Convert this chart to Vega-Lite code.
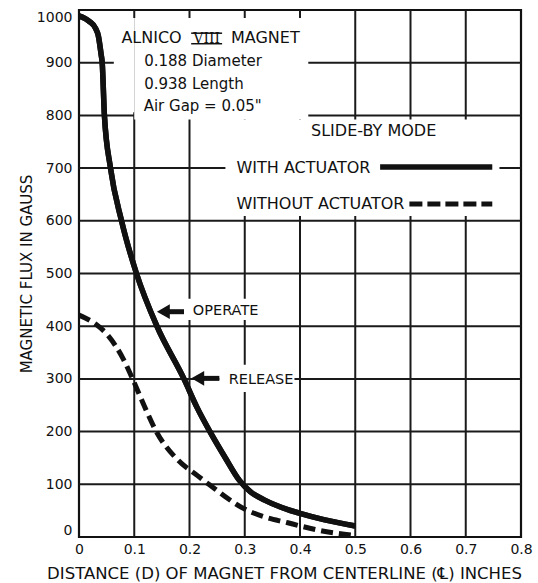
{
  "$schema": "https://vega.github.io/schema/vega-lite/v6.json",
  "width": 442,
  "height": 527,
  "autosize": {"type": "none"},
  "padding": {"left": 79, "top": 10, "right": 17, "bottom": 46},
  "background": "white",
  "resolve": {"axis": {"x": "independent", "y": "independent"}},
  "datasets": {
    "curves": [
      {"d": 0, "flux": 989, "series": "With actuator"},
      {"d": 0.018, "flux": 979, "series": "With actuator"},
      {"d": 0.03, "flux": 965, "series": "With actuator"},
      {"d": 0.035, "flux": 951, "series": "With actuator"},
      {"d": 0.04, "flux": 916, "series": "With actuator"},
      {"d": 0.042, "flux": 900, "series": "With actuator"},
      {"d": 0.046, "flux": 800, "series": "With actuator"},
      {"d": 0.057, "flux": 700, "series": "With actuator"},
      {"d": 0.077, "flux": 600, "series": "With actuator"},
      {"d": 0.104, "flux": 500, "series": "With actuator"},
      {"d": 0.141, "flux": 400, "series": "With actuator"},
      {"d": 0.19, "flux": 300, "series": "With actuator"},
      {"d": 0.214, "flux": 245, "series": "With actuator"},
      {"d": 0.237, "flux": 200, "series": "With actuator"},
      {"d": 0.265, "flux": 150, "series": "With actuator"},
      {"d": 0.29, "flux": 108, "series": "With actuator"},
      {"d": 0.31, "flux": 86, "series": "With actuator"},
      {"d": 0.336, "flux": 70, "series": "With actuator"},
      {"d": 0.378, "flux": 52, "series": "With actuator"},
      {"d": 0.4, "flux": 45, "series": "With actuator"},
      {"d": 0.443, "flux": 33, "series": "With actuator"},
      {"d": 0.5, "flux": 21, "series": "With actuator"},
      {"d": 0, "flux": 421, "series": "Without actuator"},
      {"d": 0.03, "flux": 404, "series": "Without actuator"},
      {"d": 0.052, "flux": 383, "series": "Without actuator"},
      {"d": 0.08, "flux": 338, "series": "Without actuator"},
      {"d": 0.097, "flux": 300, "series": "Without actuator"},
      {"d": 0.118, "flux": 249, "series": "Without actuator"},
      {"d": 0.14, "flux": 200, "series": "Without actuator"},
      {"d": 0.18, "flux": 145, "series": "Without actuator"},
      {"d": 0.215, "flux": 116, "series": "Without actuator"},
      {"d": 0.235, "flux": 100, "series": "Without actuator"},
      {"d": 0.3, "flux": 53, "series": "Without actuator"},
      {"d": 0.336, "flux": 38, "series": "Without actuator"},
      {"d": 0.378, "flux": 27, "series": "Without actuator"},
      {"d": 0.4, "flux": 21, "series": "Without actuator"},
      {"d": 0.443, "flux": 11, "series": "Without actuator"},
      {"d": 0.5, "flux": 3, "series": "Without actuator"}
    ]
  },
  "layer": [
    {
      "data": {"name": "curves"},
      "transform": [{"filter": "datum.series === 'With actuator'"}],
      "mark": {"type": "line", "color": "#111", "strokeWidth": 5.5, "interpolate": "monotone", "strokeCap": "butt"},
      "encoding": {
        "x": {"field": "d", "type": "quantitative", "scale": {"domain": [0, 0.8], "nice": false, "zero": false},
          "axis": {"title": "DISTANCE (D) OF MAGNET FROM CENTERLINE (℄) INCHES", "grid": false, "values": [0, 0.1, 0.2, 0.3, 0.4, 0.5, 0.6, 0.7, 0.8], "format": ".1~f", "labelFlush": false, "labelPadding": 5, "titlePadding": 9, "titleFontSize": 16.5, "titleX": 205, "titleAlign": "center", "labelOverlap": false}},
        "y": {"field": "flux", "type": "quantitative", "scale": {"domain": [0, 1000], "nice": false},
          "axis": {"title": "MAGNETIC FLUX IN GAUSS", "grid": false, "values": [0, 100, 200, 300, 400, 500, 600, 700, 800, 900, 1000], "format": "d", "labelFlush": true, "labelPadding": 7, "titlePadding": 2, "titleFontSize": 15, "labelOverlap": false}}
      }
    },
    {"data": {"values": [{}]}, "mark": {"type": "rule", "color": "#1a1a1a", "strokeWidth": 2}, "encoding": {"x": {"datum": 0.1, "axis": null}}},
    {"data": {"values": [{}]}, "mark": {"type": "rule", "color": "#1a1a1a", "strokeWidth": 2}, "encoding": {"x": {"datum": 0.2, "axis": null}}},
    {"data": {"values": [{}]}, "mark": {"type": "rule", "color": "#1a1a1a", "strokeWidth": 2}, "encoding": {"x": {"datum": 0.3, "axis": null}}},
    {"data": {"values": [{}]}, "mark": {"type": "rule", "color": "#1a1a1a", "strokeWidth": 2}, "encoding": {"x": {"datum": 0.4, "axis": null}}},
    {"data": {"values": [{}]}, "mark": {"type": "rule", "color": "#1a1a1a", "strokeWidth": 2}, "encoding": {"x": {"datum": 0.5, "axis": null}}},
    {"data": {"values": [{}]}, "mark": {"type": "rule", "color": "#1a1a1a", "strokeWidth": 2}, "encoding": {"x": {"datum": 0.6, "axis": null}}},
    {"data": {"values": [{}]}, "mark": {"type": "rule", "color": "#1a1a1a", "strokeWidth": 2}, "encoding": {"x": {"datum": 0.7, "axis": null}}},
    {"data": {"values": [{}]}, "mark": {"type": "rule", "color": "#1a1a1a", "strokeWidth": 2}, "encoding": {"y": {"datum": 100, "axis": null}}},
    {"data": {"values": [{}]}, "mark": {"type": "rule", "color": "#1a1a1a", "strokeWidth": 2}, "encoding": {"y": {"datum": 200, "axis": null}}},
    {"data": {"values": [{}]}, "mark": {"type": "rule", "color": "#1a1a1a", "strokeWidth": 2}, "encoding": {"y": {"datum": 300, "axis": null}}},
    {"data": {"values": [{}]}, "mark": {"type": "rule", "color": "#1a1a1a", "strokeWidth": 2}, "encoding": {"y": {"datum": 400, "axis": null}}},
    {"data": {"values": [{}]}, "mark": {"type": "rule", "color": "#1a1a1a", "strokeWidth": 2}, "encoding": {"y": {"datum": 500, "axis": null}}},
    {"data": {"values": [{}]}, "mark": {"type": "rule", "color": "#1a1a1a", "strokeWidth": 2}, "encoding": {"y": {"datum": 600, "axis": null}}},
    {"data": {"values": [{}]}, "mark": {"type": "rule", "color": "#1a1a1a", "strokeWidth": 2}, "encoding": {"y": {"datum": 700, "axis": null}}},
    {"data": {"values": [{}]}, "mark": {"type": "rule", "color": "#1a1a1a", "strokeWidth": 2}, "encoding": {"y": {"datum": 800, "axis": null}}},
    {"data": {"values": [{}]}, "mark": {"type": "rule", "color": "#1a1a1a", "strokeWidth": 2}, "encoding": {"y": {"datum": 900, "axis": null}}},
    {
      "data": {"values": [{}]},
      "mark": {"type": "rect", "color": "white", "opacity": 1},
      "encoding": {"x": {"datum": 0.063, "axis": null}, "x2": {"datum": 0.1}, "y": {"datum": 806, "axis": null}, "y2": {"datum": 985}}
    },
    {
      "data": {"values": [{}]},
      "mark": {"type": "rect", "color": "white", "opacity": 1},
      "encoding": {"x": {"datum": 0.1, "axis": null}, "x2": {"datum": 0.415}, "y": {"datum": 792, "axis": null}, "y2": {"datum": 985}}
    },
    {
      "data": {"values": [{}]},
      "mark": {"type": "rect", "color": "white", "opacity": 1},
      "encoding": {"x": {"datum": 0.265, "axis": null}, "x2": {"datum": 0.761}, "y": {"datum": 609, "axis": null}, "y2": {"datum": 792}}
    },
    {
      "data": {"values": [{}]},
      "mark": {"type": "rect", "color": "white", "opacity": 1},
      "encoding": {"x": {"datum": 0.19, "axis": null}, "x2": {"datum": 0.34}, "y": {"datum": 412, "axis": null}, "y2": {"datum": 452}}
    },
    {
      "data": {"values": [{}]},
      "mark": {"type": "rect", "color": "white", "opacity": 1},
      "encoding": {"x": {"datum": 0.254, "axis": null}, "x2": {"datum": 0.39}, "y": {"datum": 275, "axis": null}, "y2": {"datum": 327}}
    },
    {
      "data": {"name": "curves"},
      "transform": [{"filter": "datum.series === 'With actuator'"}],
      "mark": {"type": "line", "color": "#111", "strokeWidth": 5.5, "interpolate": "monotone", "strokeCap": "butt"},
      "encoding": {"x": {"field": "d", "type": "quantitative", "axis": null}, "y": {"field": "flux", "type": "quantitative", "axis": null}}
    },
    {
      "data": {"name": "curves"},
      "transform": [{"filter": "datum.series === 'Without actuator'"}],
      "mark": {"type": "line", "color": "#111", "strokeWidth": 5, "interpolate": "monotone", "strokeDash": [12, 6], "strokeCap": "butt"},
      "encoding": {"x": {"field": "d", "type": "quantitative", "axis": null}, "y": {"field": "flux", "type": "quantitative", "axis": null}}
    },
    {
      "data": {"values": [{}]},
      "mark": {"type": "text", "text": "ALNICO", "align": "left", "baseline": "alphabetic", "font": "DejaVu Sans", "fontSize": 16, "color": "#111"},
      "encoding": {"x": {"datum": 0.0767, "axis": null}, "y": {"datum": 937, "axis": null}}
    },
    {
      "data": {"values": [{}]},
      "mark": {"type": "text", "text": "VIII", "align": "center", "baseline": "alphabetic", "font": "DejaVu Serif", "fontSize": 14, "color": "#111"},
      "encoding": {"x": {"datum": 0.231, "axis": null}, "y": {"datum": 937, "axis": null}}
    },
    {
      "data": {"values": [{}]},
      "mark": {"type": "rule", "color": "#111", "strokeWidth": 1.5},
      "encoding": {"x": {"datum": 0.203, "axis": null}, "x2": {"datum": 0.259}, "y": {"datum": 936, "axis": null}}
    },
    {
      "data": {"values": [{}]},
      "mark": {"type": "rule", "color": "#111", "strokeWidth": 1.5},
      "encoding": {"x": {"datum": 0.203, "axis": null}, "x2": {"datum": 0.259}, "y": {"datum": 956, "axis": null}}
    },
    {
      "data": {"values": [{}]},
      "mark": {"type": "text", "text": "MAGNET", "align": "left", "baseline": "alphabetic", "font": "DejaVu Sans", "fontSize": 16, "color": "#111"},
      "encoding": {"x": {"datum": 0.275, "axis": null}, "y": {"datum": 937, "axis": null}}
    },
    {
      "data": {"values": [{}]},
      "mark": {"type": "text", "text": "0.188 Diameter", "align": "left", "baseline": "alphabetic", "font": "DejaVu Sans", "fontSize": 15, "color": "#111"},
      "encoding": {"x": {"datum": 0.118, "axis": null}, "y": {"datum": 894, "axis": null}}
    },
    {
      "data": {"values": [{}]},
      "mark": {"type": "text", "text": "0.938 Length", "align": "left", "baseline": "alphabetic", "font": "DejaVu Sans", "fontSize": 15, "color": "#111"},
      "encoding": {"x": {"datum": 0.118, "axis": null}, "y": {"datum": 851, "axis": null}}
    },
    {
      "data": {"values": [{}]},
      "mark": {"type": "text", "text": "Air Gap = 0.05\"", "align": "left", "baseline": "alphabetic", "font": "DejaVu Sans", "fontSize": 15, "color": "#111"},
      "encoding": {"x": {"datum": 0.117, "axis": null}, "y": {"datum": 808, "axis": null}}
    },
    {
      "data": {"values": [{}]},
      "mark": {"type": "text", "text": "SLIDE-BY MODE", "align": "left", "baseline": "alphabetic", "font": "DejaVu Sans", "fontSize": 16, "color": "#111"},
      "encoding": {"x": {"datum": 0.42, "axis": null}, "y": {"datum": 760, "axis": null}}
    },
    {
      "data": {"values": [{}]},
      "mark": {"type": "text", "text": "WITH ACTUATOR", "align": "left", "baseline": "alphabetic", "font": "DejaVu Sans", "fontSize": 16, "color": "#111"},
      "encoding": {"x": {"datum": 0.285, "axis": null}, "y": {"datum": 691, "axis": null}}
    },
    {
      "data": {"values": [{}]},
      "mark": {"type": "rule", "color": "#111", "strokeWidth": 5.5, "strokeCap": "butt"},
      "encoding": {"x": {"datum": 0.545, "axis": null}, "x2": {"datum": 0.748}, "y": {"datum": 702, "axis": null}}
    },
    {
      "data": {"values": [{}]},
      "mark": {"type": "text", "text": "WITHOUT ACTUATOR", "align": "left", "baseline": "alphabetic", "font": "DejaVu Sans", "fontSize": 16, "color": "#111"},
      "encoding": {"x": {"datum": 0.285, "axis": null}, "y": {"datum": 623, "axis": null}}
    },
    {
      "data": {"values": [{}]},
      "mark": {"type": "rule", "color": "#111", "strokeWidth": 5, "strokeDash": [13, 5], "strokeCap": "butt"},
      "encoding": {"x": {"datum": 0.598, "axis": null}, "x2": {"datum": 0.748}, "y": {"datum": 632, "axis": null}}
    },
    {
      "data": {"values": [{}]},
      "mark": {"type": "text", "text": "OPERATE", "align": "left", "baseline": "alphabetic", "font": "DejaVu Sans", "fontSize": 14.5, "color": "#111"},
      "encoding": {"x": {"datum": 0.206, "axis": null}, "y": {"datum": 422, "axis": null}}
    },
    {
      "data": {"values": [{}]},
      "mark": {"type": "rule", "color": "#111", "strokeWidth": 5, "strokeCap": "butt"},
      "encoding": {"x": {"datum": 0.15, "axis": null}, "x2": {"datum": 0.19}, "y": {"datum": 427.5, "axis": null}}
    },
    {
      "data": {"values": [{}]},
      "mark": {"type": "point", "shape": "triangle-left", "size": 220, "filled": true, "color": "#111", "opacity": 1},
      "encoding": {"x": {"datum": 0.1527, "axis": null}, "y": {"datum": 427.5, "axis": null}}
    },
    {
      "data": {"values": [{}]},
      "mark": {"type": "text", "text": "RELEASE", "align": "left", "baseline": "alphabetic", "font": "DejaVu Sans", "fontSize": 14.5, "color": "#111"},
      "encoding": {"x": {"datum": 0.271, "axis": null}, "y": {"datum": 291, "axis": null}}
    },
    {
      "data": {"values": [{}]},
      "mark": {"type": "rule", "color": "#111", "strokeWidth": 5, "strokeCap": "butt"},
      "encoding": {"x": {"datum": 0.212, "axis": null}, "x2": {"datum": 0.254}, "y": {"datum": 301, "axis": null}}
    },
    {
      "data": {"values": [{}]},
      "mark": {"type": "point", "shape": "triangle-left", "size": 220, "filled": true, "color": "#111", "opacity": 1},
      "encoding": {"x": {"datum": 0.215, "axis": null}, "y": {"datum": 301, "axis": null}}
    }
  ],
  "config": {
    "view": {"stroke": "#111", "strokeWidth": 2.2},
    "axis": {
      "grid": false,
      "domain": false,
      "ticks": false,
      "labelFont": "DejaVu Sans",
      "labelFontSize": 14,
      "labelColor": "#111",
      "titleFont": "DejaVu Sans",
      "titleFontWeight": "normal",
      "titleColor": "#111"
    }
  }
}
